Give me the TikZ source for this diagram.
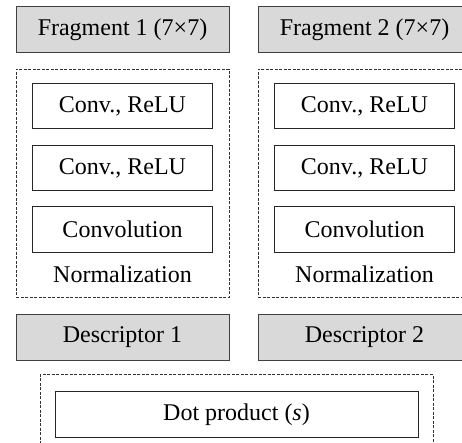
\documentclass[tikz,border=0pt]{standalone}
\usepackage{fontspec}
\setmainfont{Liberation Serif}
\usetikzlibrary{positioning,fit}
\begin{document}
\begin{tikzpicture}[x=1pt, y=1pt, node distance=15.5pt, font=\fontsize{24}{28}\selectfont]
\tikzstyle{io} = [rectangle, draw=black!75, line width=1pt, fill=black!15, minimum width=213pt, minimum height=46pt, inner sep=0pt]
\tikzstyle{layer} = [rectangle, draw=black!85, line width=1pt, fill=white, minimum width=180pt, minimum height=45pt, inner sep=0pt]
\tikzstyle{plain} = [inner sep=0pt]
\tikzstyle{group} = [draw=black!80, line width=0.9pt, dash pattern=on 3pt off 1.5pt, inner xsep=16pt, inner ysep=14.5pt]

\path[use as bounding box, clip] (0,0) rectangle (462,-443);

% inputs
\node (frag1) [io] at (122.5,-30) {Fragment 1 (7×7)};
\node (frag2) [io, right=28pt of frag1] {Fragment 2 (7×7)};

% left branch
\node (conv1a) [layer, below=30pt of frag1] {Conv., ReLU};
\node (conv2a) [layer, below=of conv1a] {Conv., ReLU};
\node (conv3a) [layer, below=of conv2a] {Convolution};
\node (norm1) [plain, below=13pt of conv3a] {Normalization};
\node (group1) [group, fit=(conv1a)(norm1)] {};

% right branch
\node (conv1b) [layer, below=30pt of frag2] {Conv., ReLU};
\node (conv2b) [layer, below=of conv1b] {Conv., ReLU};
\node (conv3b) [layer, below=of conv2b] {Convolution};
\node (norm2) [plain, below=13pt of conv3b] {Normalization};
\node (group2) [group, fit=(conv1b)(norm2)] {};

% outputs
\node (desc1) [io, below=16pt of group1] {Descriptor 1};
\node (desc2) [io, below=16pt of group2] {Descriptor 2};

\node (dot) [layer, minimum width=363pt, minimum height=46pt, below=30pt of desc1, xshift=114pt] {Dot product (\textit{s})};
\node (group3) [group, inner xsep=14.5pt, inner ysep=16pt, fit=(dot)] {};
\end{tikzpicture}
\end{document}
